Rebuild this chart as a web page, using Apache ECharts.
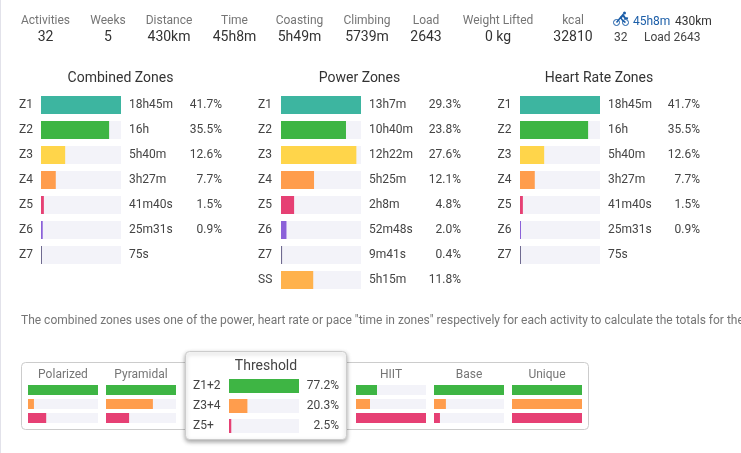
<!DOCTYPE html>
<html><head><meta charset="utf-8">
<style>html,body{margin:0;padding:0;background:#fff;overflow:hidden}#c{width:741px;height:453px}</style>
<script src="https://cdn.jsdelivr.net/npm/echarts@6/dist/echarts.min.js"></script>
</head><body><div id="c"></div>
<script>
// ---- data ----
const statLabels = ['Activities','Weeks','Distance','Time','Coasting','Climbing','Load','Weight Lifted','kcal'];
const statValues = ['32','5','430km','45h8m','5h49m','5739m','2643','0 kg','32810'];
const zoneNames = ['Z1','Z2','Z3','Z4','Z5','Z6','Z7'];
const powerNames = ['Z1','Z2','Z3','Z4','Z5','Z6','Z7','SS'];
const combinedTimes = ['18h45m','16h','5h40m','3h27m','41m40s','25m31s','75s'];
const combinedPctText = ['41.7%','35.5%','12.6%','7.7%','1.5%','0.9%',''];
const combinedBars = [41.7,35.5,12.6,7.7,1.5,0.9,0.05];
const powerTimes = ['13h7m','10h40m','12h22m','5h25m','2h8m','52m48s','9m41s','5h15m'];
const powerPctText = ['29.3%','23.8%','27.6%','12.1%','4.8%','2.0%','0.4%','11.8%'];
const powerBars = [29.3,23.8,27.6,12.1,4.8,2.0,0.4,11.8];
const hrTimes = ['18h45m','16h','5h40m','3h27m','41m40s','25m31s','75s'];
const hrPctText = ['41.7%','35.5%','12.6%','7.7%','1.5%','0.9%',''];
const hrBars = [41.7,35.5,12.6,7.7,1.5,0.5,0.05];
const thresholdNames = ['Z1+2','Z3+4','Z5+'];
const thresholdPctText = ['77.2%','20.3%','2.5%'];
const thresholdBars = [77.2,20.3,2.5];
const polarizedBars = [100,8.5,26];
const pyramidalBars = [100,67,33];
const hiitBars = [30,20,100];
const baseBars = [100,17,8.5];
const uniqueBars = [100,100,100];
const cardNames = ['Polarized','Pyramidal','HIIT','Base','Unique'];
const note = 'The combined zones uses one of the power, heart rate or pace "time in zones" respectively for each activity to calculate the totals for the';

// ---- styling / layout ----
const FONT = 'Roboto';
const zoneColors = ['#3db5a0','#3eb544','#ffd54a','#ff9d4d','#e64074','#8b61d9','#6f6a90','#ffb24d'];
const triColors = ['#3eb544','#ff9d4d','#e64074'];
const TRACK = '#f3f3f9';

const grid=[], xAxis=[], yAxis=[], series=[];
function panel(cfg){
  const i = grid.length, n = cfg.bars.length;
  grid.push({left:cfg.left, top:cfg.top, width:cfg.w, height:cfg.step*n, containLabel:false});
  xAxis.push({gridIndex:i, type:'value', min:0, max:cfg.max, show:false});
  const hiddenAxis = {axisLine:{show:false}, axisTick:{show:false}, splitLine:{show:false}};
  yAxis.push(Object.assign({gridIndex:i, type:'category', inverse:true, position:'left', data:cfg.names||cfg.bars.map((_,k)=>k),
    axisLabel:{show:!!cfg.names, interval:0, align:'left', margin:cfg.nameMargin||0, fontFamily:FONT, fontSize:12, color:'#444', hideOverlap:false}}, hiddenAxis));
  const base = yAxis.length-1;
  if(cfg.times) yAxis.push(Object.assign({gridIndex:i, type:'category', inverse:true, position:'right', data:cfg.times,
    axisLabel:{interval:0, align:'left', margin:8, fontFamily:FONT, fontSize:12, color:'#444'}}, hiddenAxis));
  if(cfg.pct) yAxis.push(Object.assign({gridIndex:i, type:'category', inverse:true, position:'right', data:cfg.pct,
    axisLabel:{interval:0, align:'right', margin:cfg.pctMargin, fontFamily:FONT, fontSize:12, color:'#444'}}, hiddenAxis));
  series.push({type:'bar', name:cfg.name, xAxisIndex:i, yAxisIndex:base, data:cfg.bars, barWidth:cfg.bw, barMinHeight:1,
    showBackground:true, backgroundStyle:{color:TRACK}, silent:true, animation:false,
    itemStyle:{color:p=>cfg.colors[p.dataIndex]}});
}
panel({name:'Combined Zones',left:41,top:92.5,w:80,step:25,bw:18,max:41.7,names:zoneNames,nameMargin:22,times:combinedTimes,pct:combinedPctText,pctMargin:101,bars:combinedBars,colors:zoneColors});
panel({name:'Power Zones',left:281,top:92.5,w:80,step:25,bw:18,max:29.3,names:powerNames,nameMargin:23,times:powerTimes,pct:powerPctText,pctMargin:100,bars:powerBars,colors:zoneColors});
panel({name:'Heart Rate Zones',left:520,top:92.5,w:80,step:25,bw:18,max:41.7,names:zoneNames,nameMargin:22.5,times:hrTimes,pct:hrPctText,pctMargin:100,bars:hrBars,colors:zoneColors});
panel({name:'Threshold',left:229,top:376,w:70,step:20,bw:14,max:77.2,names:thresholdNames,nameMargin:36,pct:thresholdPctText,pctMargin:40,bars:thresholdBars,colors:triColors});
[[28,polarizedBars],[106,pyramidalBars],[356,hiitBars],[434,baseBars],[512,uniqueBars]].forEach((c,k)=>
  panel({name:cardNames[k],left:c[0],top:383,w:70,step:14,bw:10,max:100,bars:c[1],colors:triColors}));

function text(x,y,s,o){
  return {type:'text',x:x,y:y+1,z:1,silent:true,style:Object.assign({text:s,fontFamily:FONT,fontSize:12,fill:'#757575',textAlign:'center',textVerticalAlign:'middle'},o||{})};
}
const graphic=[];
graphic.push({type:'rect',shape:{x:0,y:0,width:1,height:453},style:{fill:'#e2e2ea'},z:0,silent:true});
const statX=[45.5,108,169,234.5,299.5,367,426,498,573];
statLabels.forEach((s,i)=>{
  graphic.push(text(statX[i],20,s));
  graphic.push(text(statX[i],36,statValues[i],{fontSize:14,fontWeight:400,fill:'#333'}));
});
// activity summary (top right)
graphic.push(text(633,20.5,'45h8m',{textAlign:'left',fontSize:12,fill:'#1c5ea8'}));
graphic.push(text(675,20.5,'430km',{textAlign:'left',fontSize:12,fill:'#333'}));
graphic.push(text(614,36.5,'32',{textAlign:'left',fontSize:12,fill:'#444'}));
graphic.push(text(644,36.5,'Load 2643',{textAlign:'left',fontSize:12,fill:'#444'}));
// bike icon
const bike='#1c5ea8';
[[616.5,22.5],[625.5,22.5]].forEach(p=>graphic.push({type:'circle',shape:{cx:p[0],cy:p[1],r:3},style:{fill:'none',stroke:bike,lineWidth:1},z:1,silent:true}));
graphic.push({type:'polyline',shape:{points:[[616.5,22.5],[620.5,17.5],[623,21],[625.5,22.5]]},style:{fill:'none',stroke:bike,lineWidth:1.5},z:1,silent:true});
graphic.push({type:'polyline',shape:{points:[[620.5,18],[623,15],[625,18],[628,18.5]]},style:{fill:'none',stroke:bike,lineWidth:2},z:1,silent:true});
graphic.push({type:'circle',shape:{cx:624.5,cy:13,r:1.5},style:{fill:bike},z:1,silent:true});
// titles
[['Combined Zones',120.5],['Power Zones',359.5],['Heart Rate Zones',599]].forEach(t=>
  graphic.push(text(t[1],77,t[0],{fontSize:14,fontWeight:400,fill:'#333'})));
graphic.push(text(21,320,note,{textAlign:'left'}));
// strategy card
graphic.push({type:'rect',shape:{x:21.5,y:362.5,width:567,height:67,r:4},style:{fill:'#fff',stroke:'#ccc',lineWidth:1},z:-2,silent:true});
[63,141,391,469,547].forEach((x,i)=>graphic.push(text(x,374,cardNames[i])));
// threshold popup
graphic.push({type:'rect',shape:{x:185.5,y:351.5,width:161,height:88,r:4},style:{fill:'#fff',stroke:'#ccc',lineWidth:1,shadowBlur:4,shadowOffsetY:2,shadowColor:'rgba(0,0,0,0.35)'},z:-1,silent:true});
graphic.push(text(266,365,'Threshold',{fontSize:14,fill:'#444'}));

const chart=echarts.init(document.getElementById('c'),null,{renderer:'canvas'});
chart.setOption({animation:false,backgroundColor:'#fff',tooltip:{show:false},grid,xAxis,yAxis,series,graphic});
</script></body></html>
